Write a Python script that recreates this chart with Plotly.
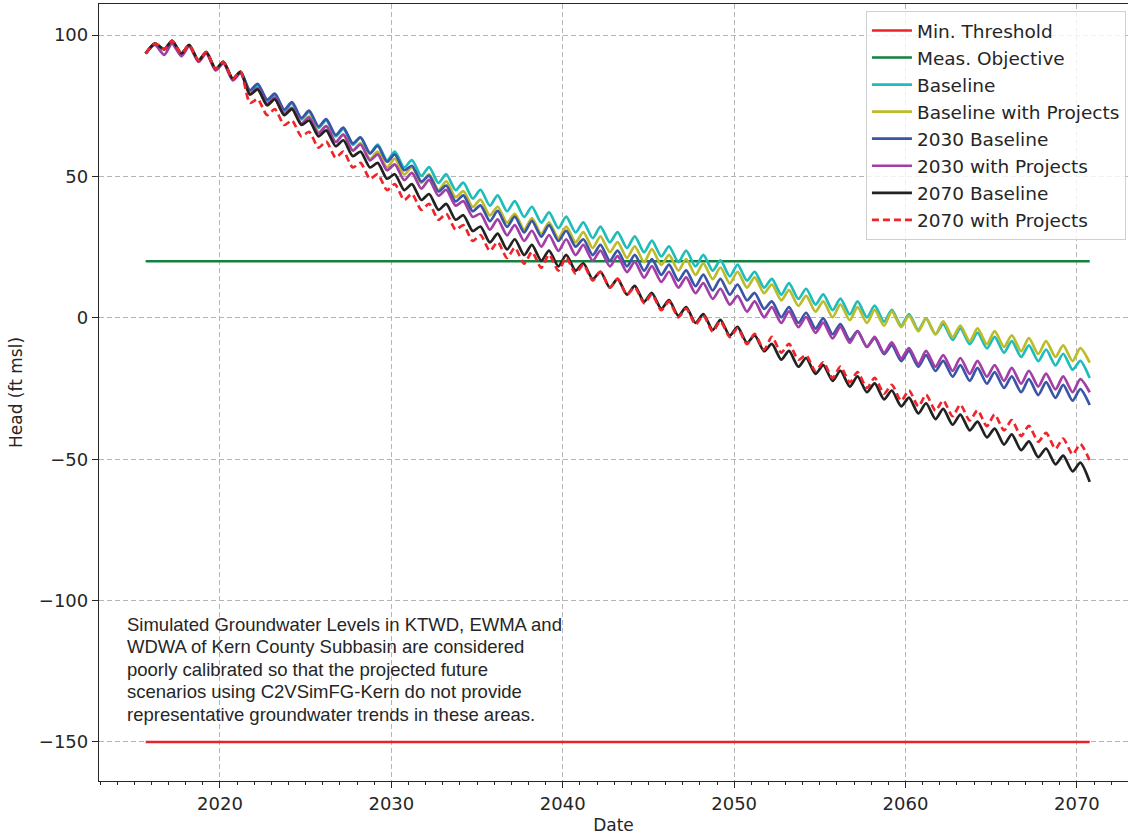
import plotly.graph_objects as go

# ---------------- data ----------------
years = list(range(2016, 2071))
start_date = "2015-09-01"
threshold_dates = ["2015-09-01", "2070-10-01"]
min_threshold = -150
meas_objective = 20

# semi-annual values: start (Sep 2015), then for each year a spring high and an autumn low
baseline = [
    93.5,
    97.0, 95.0, 98.0, 93.5, 96.5, 91.0, 94.0, 88.0, 90.5, 84.5, 87.0, 80.0,
    82.3, 76.7, 78.8, 73.2, 75.8, 70.2, 72.8, 67.2, 69.8, 64.2,
    66.8, 61.2, 63.8, 58.2, 61.3, 55.7, 58.8, 53.2, 55.8, 50.2,
    53.3, 47.7, 50.8, 45.2, 47.8, 42.2, 45.3, 39.7, 43.3, 37.7,
    41.3, 35.7, 39.3, 33.7, 37.3, 31.7, 35.8, 30.2, 33.8, 28.2,
    32.3, 26.7, 30.3, 24.7, 28.8, 23.2, 27.3, 21.7, 25.3, 19.7,
    23.8, 18.2, 22.3, 16.7, 20.3, 14.7, 18.8, 13.2, 16.3, 10.7,
    13.8, 8.2, 12.3, 6.7, 10.3, 4.7, 8.3, 2.7, 6.8, 1.2,
    5.8, 0.2, 4.3, -1.3, 2.8, -2.8, 1.3, -4.3, -0.2, -5.8,
    -2.2, -7.8, -3.7, -9.3, -5.2, -10.8, -6.7, -12.3, -8.2, -13.8,
    -9.7, -15.3, -11.2, -16.8, -12.7, -18.3, -15.2, -21.3,
]
baseline_projects = [
    93.5,
    97.0, 95.0, 98.0, 93.5, 96.5, 91.0, 94.0, 88.0, 90.5, 84.5, 87.0, 79.5,
    80.8, 75.2, 77.3, 71.7, 74.3, 68.7, 71.3, 65.7, 67.8, 62.2,
    64.8, 59.2, 61.8, 56.2, 58.8, 53.2, 56.3, 50.7, 53.3, 47.7,
    50.8, 45.2, 48.3, 42.7, 44.8, 39.2, 41.8, 36.2, 39.3, 33.7,
    36.8, 31.2, 35.3, 29.7, 33.8, 28.2, 32.3, 26.7, 30.3, 24.7,
    28.8, 23.2, 26.8, 21.2, 25.3, 19.7, 24.3, 18.7, 22.3, 16.7,
    20.8, 15.2, 19.3, 13.7, 17.8, 12.2, 16.3, 10.7, 14.3, 8.7,
    11.8, 6.2, 9.8, 4.2, 7.8, 2.2, 5.8, 0.2, 4.8, -0.8,
    3.8, -1.8, 2.8, -2.8, 2.3, -3.3, 0.8, -4.8, -0.2, -5.8,
    -1.2, -6.8, -2.7, -8.3, -3.7, -9.3, -4.7, -10.3, -6.2, -11.8,
    -7.2, -12.8, -8.2, -13.8, -9.7, -15.3, -10.7, -15.8,
]
baseline_2030 = [
    93.5,
    97.0, 95.0, 98.0, 93.5, 96.5, 91.0, 94.0, 88.0, 90.5, 84.5, 87.0, 80.5,
    82.8, 77.2, 79.3, 73.7, 76.3, 70.7, 73.3, 67.7, 70.3, 64.7,
    67.3, 61.7, 63.8, 58.2, 60.8, 55.2, 57.8, 52.2, 53.8, 48.2,
    50.3, 44.7, 46.8, 41.2, 43.3, 37.7, 39.8, 34.2, 37.8, 32.2,
    35.8, 30.2, 34.3, 28.7, 32.8, 27.2, 30.8, 25.2, 27.8, 22.2,
    25.8, 20.2, 23.8, 18.2, 22.3, 16.7, 20.8, 15.2, 18.8, 13.2,
    16.8, 11.2, 15.3, 9.7, 13.8, 8.2, 11.8, 6.2, 8.8, 3.2,
    5.8, 0.2, 3.8, -1.8, 1.8, -3.8, -0.2, -5.8, -2.2, -7.8,
    -4.7, -10.3, -7.2, -12.8, -9.7, -15.3, -11.7, -17.3, -13.2, -18.8,
    -15.2, -20.8, -16.7, -22.3, -17.7, -23.3, -19.2, -24.8, -20.7, -26.3,
    -21.7, -27.3, -22.7, -28.3, -23.7, -29.3, -25.2, -30.8,
]
projects_2030 = [
    93.5,
    96.5, 93.0, 97.0, 92.5, 96.0, 90.5, 93.5, 87.5, 90.0, 84.0, 86.5, 79.0,
    81.3, 75.7, 77.8, 72.2, 74.3, 68.7, 70.8, 65.2, 67.8, 62.2,
    64.8, 59.2, 61.3, 55.7, 57.8, 52.2, 54.3, 48.7, 51.3, 45.7,
    48.8, 43.2, 45.3, 39.7, 41.3, 35.7, 36.8, 31.2, 34.8, 29.2,
    32.8, 27.2, 30.8, 25.2, 29.3, 23.7, 27.8, 22.2, 25.8, 20.2,
    23.8, 18.2, 21.8, 16.2, 19.8, 14.2, 18.3, 12.7, 16.3, 10.7,
    14.3, 8.7, 12.3, 6.7, 10.3, 4.7, 7.8, 2.2, 5.8, 0.2,
    3.8, -1.8, 2.3, -3.3, 0.3, -5.3, -1.7, -7.3, -3.2, -8.8,
    -4.7, -10.3, -6.7, -12.3, -8.7, -14.3, -10.7, -16.3, -11.7, -17.3,
    -13.2, -18.8, -14.2, -19.8, -15.2, -20.8, -16.7, -22.3, -17.7, -23.3,
    -18.7, -24.3, -19.7, -25.3, -20.7, -26.3, -21.7, -26.3,
]
baseline_2070 = [
    93.5,
    97.0, 95.0, 98.0, 93.5, 96.5, 91.0, 94.0, 88.0, 90.5, 84.5, 87.0, 79.0,
    80.8, 75.2, 77.3, 71.7, 73.8, 68.2, 69.8, 64.2, 66.3, 60.7,
    62.8, 57.2, 58.8, 53.2, 54.8, 49.2, 50.8, 45.2, 47.3, 41.7,
    43.8, 38.2, 40.3, 34.7, 36.3, 30.7, 32.3, 26.7, 29.8, 24.2,
    27.8, 22.2, 25.8, 20.2, 23.8, 18.2, 22.3, 16.7, 19.3, 13.7,
    16.3, 10.7, 13.8, 8.2, 11.3, 5.7, 8.8, 3.2, 6.3, 0.7,
    3.8, -1.8, 1.3, -4.3, -0.7, -6.3, -3.2, -8.8, -6.2, -11.8,
    -9.2, -14.8, -11.7, -17.3, -14.2, -19.8, -16.7, -22.3, -18.7, -24.3,
    -20.7, -26.3, -23.2, -28.8, -25.7, -31.3, -28.2, -33.8, -30.2, -35.8,
    -32.2, -37.8, -34.2, -39.8, -36.7, -42.3, -39.2, -44.8, -41.2, -46.8,
    -43.7, -49.3, -46.2, -51.8, -48.7, -54.3, -51.2, -58.0,
]
projects_2070 = [
    93.5,
    97.0, 95.0, 98.0, 93.5, 96.5, 91.0, 94.0, 88.0, 90.5, 84.5, 87.0, 76.0,
    77.3, 71.7, 73.8, 68.2, 69.8, 64.2, 65.8, 60.2, 62.3, 56.7,
    58.8, 53.2, 54.8, 49.2, 50.8, 45.2, 47.3, 41.7, 43.8, 38.2,
    40.3, 34.7, 36.8, 31.2, 32.8, 27.2, 29.3, 23.7, 26.8, 21.2,
    24.8, 19.2, 23.3, 17.7, 22.3, 16.7, 21.3, 15.7, 18.8, 13.2,
    16.3, 10.7, 13.8, 8.2, 10.8, 5.2, 8.3, 2.7, 5.8, 0.2,
    3.3, -2.3, 0.8, -4.8, -1.2, -6.8, -3.7, -9.3, -5.7, -11.3,
    -6.7, -12.3, -9.2, -14.8, -13.2, -18.8, -15.7, -21.3, -17.2, -22.8,
    -19.2, -24.8, -21.2, -26.8, -23.7, -29.3, -25.7, -31.3, -27.2, -32.8,
    -29.2, -34.8, -30.7, -36.3, -32.7, -38.3, -34.2, -39.8, -36.2, -41.8,
    -38.2, -43.8, -40.7, -46.3, -42.7, -48.3, -44.7, -50.5,
]

y_tick_values = [-150, -100, -50, 0, 50, 100]
note_lines = [
    "Simulated Groundwater Levels in KTWD, EWMA and",
    "WDWA of Kern County Subbasin are considered",
    "poorly calibrated so that the projected future",
    "scenarios using C2VSimFG-Kern do not provide",
    "representative groundwater trends in these areas.",
]
note_line_pos = [0.2008, 0.1725, 0.1441, 0.1158, 0.0862]

# ---------------- build figure ----------------
dates = [start_date]
for y in years:
    dates += [f"{y}-03-15", f"{y}-10-01"]

fig = go.Figure()
fig.add_trace(go.Scatter(x=threshold_dates, y=[min_threshold] * 2, mode="lines",
                         name="Min. Threshold", line=dict(color="#e8232b", width=2.6)))
fig.add_trace(go.Scatter(x=threshold_dates, y=[meas_objective] * 2, mode="lines",
                         name="Meas. Objective", line=dict(color="#138140", width=2.6)))

series = [
    ("Baseline", baseline, "#1fbcbc", "solid"),
    ("Baseline with Projects", baseline_projects, "#bcbc2a", "solid"),
    ("2030 Baseline", baseline_2030, "#3a55a5", "solid"),
    ("2030 with Projects", projects_2030, "#a23ea6", "solid"),
    ("2070 Baseline", baseline_2070, "#222222", "solid"),
    ("2070 with Projects", projects_2070, "#f0242b", "7px,4px"),
]
for name, vals, color, dash in series:
    fig.add_trace(go.Scatter(x=dates, y=vals, mode="lines", name=name,
                             line=dict(color=color, width=2.7, dash=dash,
                                       shape="spline", smoothing=0.7)))

for line_text, ypos in zip(note_lines, note_line_pos):
    fig.add_annotation(text=line_text, xref="paper", yref="paper",
                       x=0.0253, y=ypos, xanchor="left", yanchor="middle", align="left",
                       showarrow=False,
                       font=dict(family="Liberation Sans, Arial", size=18.5, color="#262626"))

axis_color = "#262626"
grid_color = "#b5b5b5"
fig.update_layout(
    width=1128, height=835,
    margin=dict(l=99, r=0, t=4, b=54),
    plot_bgcolor="white", paper_bgcolor="white",
    font=dict(family="DejaVu Sans", size=18, color=axis_color),
    showlegend=True,
    legend=dict(x=0.998, y=0.991, xanchor="right", yanchor="top",
                bgcolor="rgba(255,255,255,0.8)", bordercolor="#d0d0d0", borderwidth=1,
                font=dict(family="DejaVu Sans", size=18.5, color=axis_color),
                itemwidth=40, tracegroupgap=0),
    xaxis=dict(type="date", range=["2012-12-10", "2072-12-25"],
               tick0="2020-01-01", dtick="M120", tickformat="%Y",
               ticks="outside", ticklen=6, tickwidth=1.2, tickcolor=axis_color,
               showline=True, linecolor=axis_color, linewidth=1.3, mirror=True,
               showgrid=True, gridcolor=grid_color, griddash="5px,3px", gridwidth=1,
               zeroline=False,
               minor=dict(dtick="M12", tick0="2020-01-01", ticks="outside", ticklen=3,
                          tickwidth=1, tickcolor=axis_color, showgrid=False),
               title=dict(text="Date", standoff=6, font=dict(size=17))),
    yaxis=dict(range=[-163.8, 111], tickvals=y_tick_values,
               ticks="outside", ticklen=6, tickwidth=1.2, tickcolor=axis_color,
               showline=True, linecolor=axis_color, linewidth=1.3,
               showgrid=True, gridcolor=grid_color, griddash="5px,3px", gridwidth=1,
               zeroline=False,
               title=dict(text="Head (ft msl)", standoff=11, font=dict(size=17))),
)

fig.write_html("out.html", config={"displayModeBar": False},
               post_script="document.body.style.margin='0px';")
